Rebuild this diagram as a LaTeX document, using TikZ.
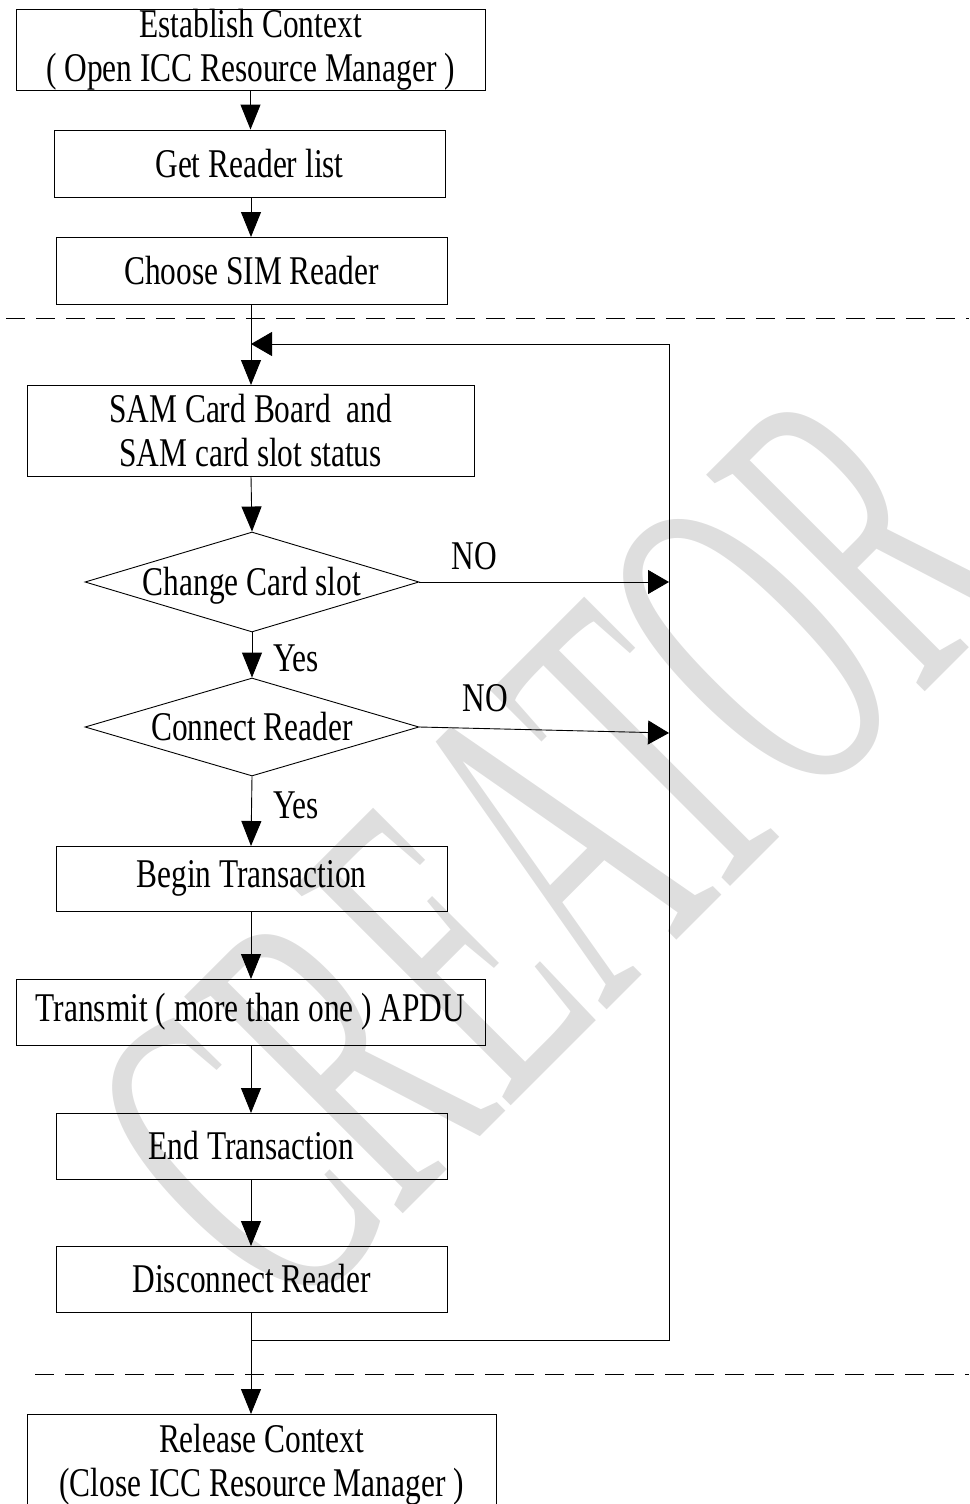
\documentclass[tikz,border=0pt]{standalone}
\usepackage{fontspec}
\setmainfont{Liberation Serif}
\usetikzlibrary{arrows.meta,shapes.geometric}
\definecolor{wm}{HTML}{DEDEDE}
\newcommand\tx[1]{\scalebox{1}[1.3]{#1}}
\begin{document}
\begin{tikzpicture}[x=1pt,y=-1pt,
  box/.style={draw,line width=0.9pt,inner sep=0,align=center,font=\fontsize{31.4}{44}\selectfont},
  dia/.style={draw,diamond,line width=0.9pt,inner sep=0,minimum width=334pt,minimum height=#1,aspect=3.34},
  lbl/.style={font=\fontsize{31.4}{44}\selectfont,inner sep=0},
  conn/.style={line width=0.9pt},
  va/.style={conn,-{Triangle[length=25pt,width=20pt]}},
  ha/.style={conn,-{Triangle[length=21pt,width=24pt]}},
  dsh/.style={line width=0.9pt,dash pattern=on 19pt off 11pt}]
\useasboundingbox (0,0) rectangle (969,1504);
\clip (0,0) rectangle (969,1504);
% watermark
\node[text=wm,rotate=45,inner sep=0] (wmk) at (550,850)
  {\scalebox{0.49}[1]{\fontsize{470}{470}\selectfont CREATOR}};
% boxes
\node[box,minimum width=469pt,minimum height=80pt] (b1) at (250.5,50)
  {\tx{Establish Context}\\\tx{( Open ICC Resource Manager )}};
\node[box,minimum width=391pt,minimum height=67pt] (b2) at (249.5,163.5) {\tx{Get Reader list}};
\node[box,minimum width=391pt,minimum height=67pt] (b3) at (251.5,270.5) {\tx{Choose SIM Reader}};
\node[box,minimum width=447pt,minimum height=91pt] (b4) at (250.5,430.5)
  {\tx{SAM Card Board\ \ and}\\\tx{SAM card slot status}};
\node[dia=100pt] (d1) at (252,582) {};
\node[lbl] (d1t) at (252,585.5) {\tx{Change Card slot}};
\node[dia=98pt] (d2) at (252,727) {};
\node[lbl] (d2t) at (252,727) {\tx{Connect Reader}};
\node[box,minimum width=391pt,minimum height=65pt] (b5) at (251.5,878.5) {\tx{Begin Transaction}};
\node[box,minimum width=469pt,minimum height=66pt] (b6) at (250.5,1012) {\tx{Transmit ( more than one ) APDU}};
\node[box,minimum width=391pt,minimum height=66pt] (b7) at (251.5,1146) {\tx{End Transaction}};
\node[box,minimum width=391pt,minimum height=66pt] (b8) at (251.5,1279) {\tx{Disconnect Reader}};
\node[box,minimum width=469pt,minimum height=101pt] (b9) at (261.5,1464.5)
  {\tx{Release Context}\\\tx{(Close ICC Resource Manager )}};
% labels
\node[lbl] (no1) at (474.5,556) {\tx{NO}};
\node[lbl] (no2) at (485.5,698.5) {\tx{NO}};
\node[lbl] (y1) at (296,658) {\tx{Yes}};
\node[lbl] (y2) at (296,805) {\tx{Yes}};
% dashed separators
\coordinate (s1a) at (6,318); \coordinate (s1b) at (969,318);
\coordinate (s2a) at (35,1374); \coordinate (s2b) at (969,1374);
\draw[dsh] (s1a) -- (s1b);
\draw[dsh] (s2a) -- (s2b);
% loop coordinates
\coordinate (j) at (251,1340);
\coordinate (rb) at (669,1340);
\coordinate (rt) at (669,344);
\coordinate (jt) at (251,344);
\coordinate (n2) at (669,733);
% connectors
\draw[va] (b1.south) -- (b1.south |- b2.north);
\draw[va] (251,197) -- (251,237);
\draw[va] (251,304) -- (251,385);
\draw[va] (251,476) -- (d1.north);
\draw[va] (d1.south) -- (d2.north);
\draw[va] (d2.south) -- (251,846);
\draw[va] (251,911) -- (251,979);
\draw[va] (251,1045) -- (251,1113);
\draw[va] (251,1179) -- (251,1246);
\draw[va] (251,1312) -- (251,1414);
\draw[conn] (j) -- (rb) -- (rt);
\draw[ha] (rt) -- (jt);
\draw[ha] (d1.east) -- (d1.east -| rt);
\draw[ha] (d2.east) -- (n2);
\end{tikzpicture}
\end{document}
